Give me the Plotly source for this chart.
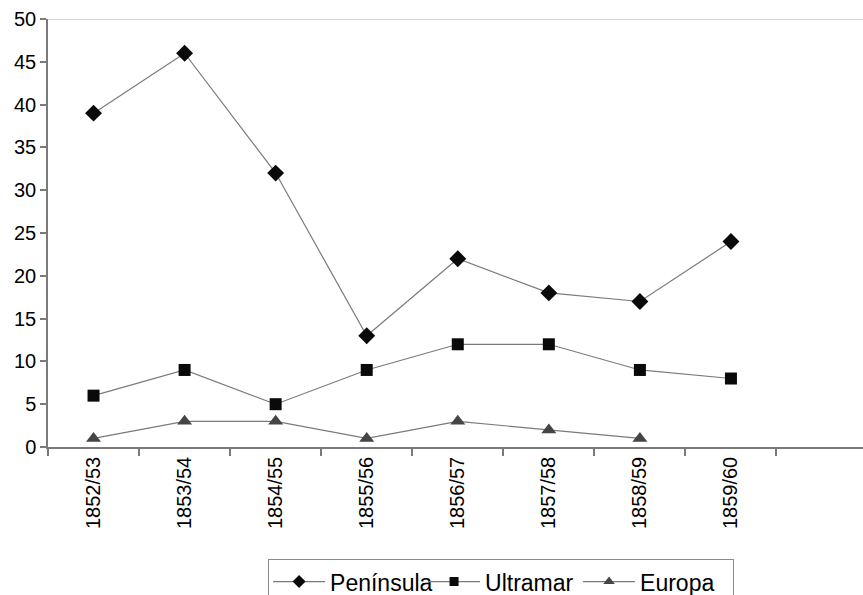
import plotly.graph_objects as go

# Academic years shown on the category axis (the last slot is left empty)
years = ["1852/53", "1853/54", "1854/55", "1855/56", "1856/57",
         "1857/58", "1858/59", "1859/60", " "]

peninsula = [39, 46, 32, 13, 22, 18, 17, 24]
ultramar = [6, 9, 5, 9, 12, 12, 9, 8]
europa = [1, 3, 3, 1, 3, 2, 1]

y_ticks = list(range(0, 55, 5))

FONT = "Liberation Sans, Arial, sans-serif"
LINE_GREY = "#7a7a7a"

fig = go.Figure()

series = [
    ("Península", peninsula, "diamond", 13, "#0a0a0a"),
    ("Ultramar", ultramar, "square", 12, "#0a0a0a"),
    ("Europa", europa, "triangle-up", 13, "#454545"),
]
for name, vals, symbol, size, color in series:
    fig.add_trace(go.Scatter(
        x=years[:len(vals)], y=vals, name=name,
        mode="lines+markers", showlegend=False, legendgroup=name,
        line=dict(color=LINE_GREY, width=1.2),
        marker=dict(symbol=symbol, size=size, color=color,
                    line=dict(width=0)),
    ))

# legend keys with smaller symbols than the plotted markers
for name, vals, symbol, size, color in series:
    fig.add_trace(go.Scatter(
        x=[None], y=[None], name=name, legendgroup=name,
        mode="lines+markers",
        line=dict(color=LINE_GREY, width=1.2),
        marker=dict(symbol=symbol, size=size - 3, color=color,
                    line=dict(width=0)),
    ))

# thin frame line along the top of the plotting area
fig.add_shape(type="line", xref="paper", yref="y", x0=0, x1=1, y0=50, y1=50,
              line=dict(color="#c8c8c8", width=1.5))

fig.update_layout(
    width=863, height=595,
    margin=dict(l=48, r=0, t=19, b=148, autoexpand=False),
    paper_bgcolor="white", plot_bgcolor="white",
    font=dict(family=FONT, size=20, color="#000000"),
    showlegend=True,
    legend=dict(
        orientation="h", x=0.27, y=-0.262, xanchor="left", yanchor="top",
        bordercolor="#8a8a8a", borderwidth=1, bgcolor="white",
        font=dict(size=23, family=FONT, color="#000000"),
        itemwidth=52, tracegroupgap=0, entrywidth=88,
    ),
    xaxis=dict(
        type="category", categoryorder="array", categoryarray=years,
        range=[-0.5, 8.45], tickmode="array", tickvals=years[:8],
        ticktext=years[:8],
        showgrid=False, zeroline=False,
        showline=True, linecolor=LINE_GREY, linewidth=1.5,
        ticks="outside", tickson="boundaries", ticklen=7,
        tickcolor=LINE_GREY, tickwidth=1.5, tickangle=-90,
        tickfont=dict(size=20, family=FONT, color="#000000"),
    ),
    yaxis=dict(
        range=[0, 50], tickvals=y_ticks,
        showgrid=False, zeroline=False,
        showline=True, linecolor=LINE_GREY, linewidth=1.5,
        ticks="outside", ticklen=6, tickcolor=LINE_GREY, tickwidth=1.5,
        tickfont=dict(size=20, family=FONT, color="#000000"),
    ),
)

fig.write_html("out.html")
